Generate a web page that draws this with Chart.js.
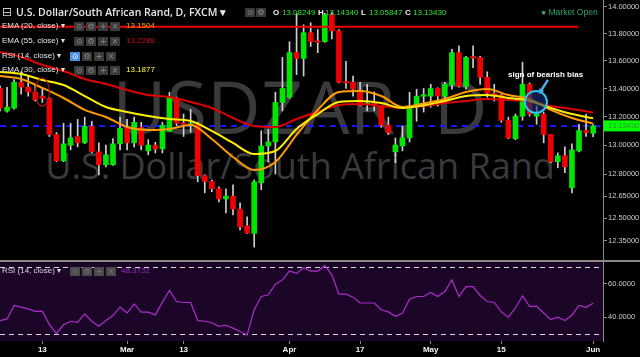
<!DOCTYPE html>
<html>
<head>
<meta charset="utf-8">
<script src="https://cdn.jsdelivr.net/npm/chart.js@4.4.0/dist/chart.umd.min.js"></script>
<style>
  html, body { margin: 0; padding: 0; background: #000; }
  #wrap { position: relative; width: 640px; height: 357px; overflow: hidden; background: #000;
          font-family: "Liberation Sans", Arial, sans-serif; }
  canvas { position: absolute; left: 0; }
  #main { top: 0; z-index: 1; }
  #rsi { top: 262px; z-index: 1; }
  #sep { position: absolute; left: 0; top: 260px; width: 640px; height: 2px; background: #8a8a8a; z-index: 1; }
  .wm { position: absolute; left: 0; width: 600px; text-align: center; color: #3a3a3a;
        font-family: "Open Sans", sans-serif; white-space: nowrap; z-index: 0; }
  .ov { position: absolute; z-index: 2; white-space: nowrap; line-height: 10px; font-size: 8px; color: #e2e2e2; }
  .ib { position: absolute; z-index: 2; width: 10px; height: 9px; background: #3a3a3a; color: #8c8c8c;
        font-size: 8px; line-height: 9px; text-align: center; font-family: "DejaVu Sans", sans-serif; }
  .g { color: #2ee62e; }
  .w { color: #f0f0f0; font-weight: bold; }
</style>
</head>
<body>
<div id="wrap">
  <div class="wm" style="top:69px; font-size:74px; line-height:74px;">USDZAR, D</div>
  <div class="wm" style="top:148px; font-size:36px; line-height:36px;">U.S. Dollar/South African Rand</div>

  <canvas id="main" width="640" height="260"></canvas>
  <div id="sep"></div>
  <canvas id="rsi" width="640" height="95"></canvas>

  <!-- header -->
  <div class="ov" style="left:2px; top:6px; font-size:12px; line-height:12px; font-family:'DejaVu Sans',sans-serif; color:#cfcfcf;">⊟</div>
  <div class="ov" style="left:16px; top:6px; font-size:10.5px; line-height:12px; font-weight:600; font-family:'Open Sans',sans-serif; color:#e8e8e8;">U.S. Dollar/South African Rand, D, FXCM ▾</div>
  <div class="ib" style="left:245px; top:8px;">⊙</div>
  <div class="ib" style="left:256px; top:8px;">⚙</div>
  <div class="ov w" style="left:273px; top:8px;">O</div>
  <div class="ov g" style="left:282px; top:8px;">13.08249</div>
  <div class="ov w" style="left:318px; top:8px;">H</div>
  <div class="ov g" style="left:325px; top:8px;">13.14340</div>
  <div class="ov w" style="left:361px; top:8px;">L</div>
  <div class="ov g" style="left:369px; top:8px;">13.05847</div>
  <div class="ov w" style="left:405px; top:8px;">C</div>
  <div class="ov g" style="left:413px; top:8px;">13.13430</div>
  <div class="ov" style="left:541px; top:7px; font-size:8.5px; color:#2ea36f;">● Market Open</div>

  <!-- indicator legends -->
  <div class="ov" style="left:2px; top:21px;">EMA (20, close) ▾</div>
  <div class="ib" style="left:74px; top:22px;">⊙</div><div class="ib" style="left:86px; top:22px;">⚙</div>
  <div class="ib" style="left:98px; top:22px;">+</div><div class="ib" style="left:110px; top:22px;">×</div>
  <div class="ov" style="left:126px; top:21px; color:#f5a300;">13.1504</div>

  <div class="ov" style="left:2px; top:36px;">EMA (55, close) ▾</div>
  <div class="ib" style="left:74px; top:37px;">⊙</div><div class="ib" style="left:86px; top:37px;">⚙</div>
  <div class="ib" style="left:98px; top:37px;">+</div><div class="ib" style="left:110px; top:37px;">×</div>
  <div class="ov" style="left:126px; top:36px; color:#cc1010;">13.2288</div>

  <div class="ov" style="left:2px; top:51px;">RSI (14, close) ▾</div>
  <div class="ib" style="left:70px; top:52px; background:#4a8fe0; color:#fff;">⊙</div><div class="ib" style="left:82px; top:52px;">⚙</div>
  <div class="ib" style="left:94px; top:52px;">+</div><div class="ib" style="left:106px; top:52px;">×</div>

  <div class="ov" style="left:2px; top:65px;">EMA (30, close) ▾</div>
  <div class="ib" style="left:74px; top:66px;">⊙</div><div class="ib" style="left:86px; top:66px;">⚙</div>
  <div class="ib" style="left:98px; top:66px;">+</div><div class="ib" style="left:110px; top:66px;">×</div>
  <div class="ov" style="left:126px; top:65px; color:#ffff33;">13.1877</div>

  <div class="ov" style="left:508px; top:70px; font-weight:bold; color:#fff;">sign of bearish bias</div>

  <!-- RSI legend -->
  <div class="ov" style="left:2px; top:266px; color:#d8d8d8;">RSI (14, close) ▾</div>
  <div class="ib" style="left:70px; top:267px; background:#4a4a4a; color:#777;">⊙</div><div class="ib" style="left:82px; top:267px; background:#4a4a4a; color:#777;">⚙</div>
  <div class="ib" style="left:94px; top:267px; background:#4a4a4a; color:#777;">+</div><div class="ib" style="left:106px; top:267px; background:#4a4a4a; color:#777;">×</div>
  <div class="ov" style="left:121px; top:266px; color:#9a2cb8;">48.3732</div>
</div>

<script>
// trading days Feb 3 .. Jun 1 (index = trading day number)
const xTickIdx = [6, 18, 26, 41, 51, 61, 71, 84];
const xTickText = ['13', 'Mar', '13', 'Apr', '17', 'May', '15', 'Jun'];

const opens = [13.40,13.239,13.26,13.445,13.41,13.375,13.345,13.33,13.074,12.891,
  13.0,13.06,13.016,13.131,12.953,12.864,12.864,13.009,13.117,13.016,
  13.124,12.96,13.0,12.974,13.095,13.33,13.153,13.14,13.146,12.789,
  12.75,12.70,12.631,12.65,12.563,12.45,12.40,12.74,12.994,13.022,
  13.30,13.338,13.66,13.617,13.806,13.745,13.74,13.94,13.82,13.45,
  13.445,13.375,13.285,13.295,13.275,13.14,12.953,12.994,13.05,13.275,
  13.345,13.345,13.40,13.345,13.425,13.66,13.416,13.625,13.625,13.48,
  13.366,13.352,13.174,13.045,13.203,13.43,13.203,13.218,13.074,12.885,
  12.926,12.706,12.96,13.102,13.08249];
const highs = [13.42,13.409,13.465,13.52,13.49,13.43,13.40,13.335,13.088,13.153,
  13.153,13.18,13.196,13.166,13.016,13.0,13.045,13.196,13.18,13.196,
  13.16,13.038,13.02,13.16,13.373,13.338,13.218,13.25,13.16,12.795,
  12.76,12.713,12.70,12.727,12.604,12.51,12.76,13.10,13.11,13.373,
  13.625,13.74,13.95,13.865,13.88,13.83,13.95,13.96,13.83,13.596,
  13.49,13.445,13.43,13.375,13.28,13.196,13.05,13.131,13.373,13.395,
  13.40,13.43,13.405,13.445,13.683,13.71,13.632,13.71,13.632,13.52,
  13.43,13.36,13.196,13.218,13.59,13.44,13.275,13.232,13.074,12.946,
  12.988,13.009,13.146,13.218,13.1434];
const lows = [13.24,13.232,13.253,13.36,13.345,13.31,13.30,13.06,12.885,12.885,
  12.967,12.988,13.01,12.946,12.795,12.85,12.86,12.967,12.967,12.988,
  12.967,12.933,12.946,12.946,13.095,13.138,13.06,13.09,12.747,12.672,
  12.68,12.61,12.537,12.523,12.423,12.40,12.31,12.693,12.885,12.80,
  13.24,13.33,13.50,13.49,13.705,13.66,13.735,13.76,13.44,13.40,
  13.345,13.275,13.24,13.24,13.125,13.074,12.878,12.96,13.022,13.167,
  13.232,13.267,13.275,13.325,13.395,13.41,13.395,13.55,13.43,13.338,
  13.31,13.16,13.045,13.038,13.174,13.203,13.146,13.016,12.878,12.843,
  12.809,12.672,12.953,13.06,13.05847];
const closes = [13.26,13.267,13.445,13.41,13.375,13.32,13.33,13.074,12.891,13.009,
  13.05,13.016,13.131,12.953,12.864,12.933,13.009,13.117,13.016,13.16,
  13.0,13.0,12.974,13.138,13.338,13.153,13.145,13.15,12.789,12.75,
  12.70,12.631,12.65,12.563,12.443,12.403,12.747,12.994,13.022,13.30,
  13.40,13.66,13.617,13.806,13.74,13.735,13.94,13.82,13.445,13.44,
  13.395,13.28,13.29,13.275,13.14,13.088,13.0,13.05,13.275,13.345,
  13.352,13.40,13.345,13.43,13.66,13.416,13.625,13.62,13.48,13.366,
  13.345,13.174,13.05,13.203,13.43,13.218,13.218,13.074,12.885,12.926,
  12.85,12.967,13.102,13.088,13.1343];

// moving averages, read every third day
const emaIdx = [0,3,6,9,12,15,18,21,24,27,30,33,36,39,42,45,48,51,54,57,60,63,66,69,72,75,78,81,84];
const ema20 = [13.490,13.468,13.404,13.332,13.247,13.197,13.127,13.106,13.113,13.141,13.043,12.918,12.828,12.883,
  13.071,13.247,13.375,13.382,13.346,13.268,13.293,13.325,13.375,13.396,13.353,13.325,13.247,13.190,13.1504];
const ema30 = [13.519,13.504,13.461,13.425,13.346,13.268,13.233,13.204,13.183,13.169,13.099,13.015,12.938,12.959,
  13.113,13.218,13.304,13.311,13.296,13.261,13.279,13.311,13.346,13.353,13.332,13.311,13.261,13.218,13.1877];
const ema55 = [13.664,13.628,13.570,13.526,13.468,13.432,13.389,13.353,13.339,13.304,13.261,13.190,13.134,13.127,
  13.183,13.233,13.282,13.289,13.275,13.261,13.275,13.296,13.311,13.325,13.318,13.311,13.275,13.254,13.2288];

const rsi = [38,39,47,46,45,43.5,43.5,35.6,30.3,35.5,
  37.6,37,42,37.6,34.6,38,41,46,42.6,48,
  43,43,41.4,49,56,49.4,48.8,48.8,38,37.6,
  36.7,34.6,35.2,33.5,31.5,29.4,44.5,52.4,53.4,59.7,
  62.3,67.6,66.2,69.6,67.6,67.6,70.8,65.3,53.8,53.8,
  52,48.5,48.5,48.5,44.5,43.2,40.6,42.3,50.8,52.4,
  52.4,54.8,52.4,55.4,62.3,52.4,58.3,58.3,53,49.4,
  48.8,43.2,40,45.5,52.8,46.5,46.5,42.5,38.6,40,
  38,41.2,47,45.9,48.37];

const priceTicks = [14.0, 13.8, 13.6, 13.4, 13.2, 13.0, 12.8, 12.65, 12.5, 12.35];
const rsiTicks = [40, 60];
const rsiBands = [70, 30];

// horizontal resistance drawn on the chart
const resistance = 13.85;
const resistanceFrom = -1, resistanceTo = 81.9;

// markups
const bearishMark = { idx: 75.9, price: 13.304 };
const earlyMark = { idx: 6, price: 13.375 };

const lastClose = closes[closes.length - 1];
const axisFont = { family: "'Liberation Sans', Arial, sans-serif", size: 7.5 };

const days = opens.map((v, i) => i);
const bodyColors = days.map(i => closes[i] >= opens[i] ? '#00e600' : '#f00000');

const mainDecor = {
  id: 'mainDecor',
  beforeDatasetsDraw(chart) {
    const { ctx, chartArea: a, scales: { y } } = chart;
    const py = y.getPixelForValue(lastClose);
    ctx.save();
    ctx.strokeStyle = '#1717ff';
    ctx.lineWidth = 2;
    ctx.setLineDash([6, 5]);
    ctx.beginPath();
    ctx.moveTo(a.left, py);
    ctx.lineTo(a.right, py);
    ctx.stroke();
    ctx.restore();
  },
  afterDatasetsDraw(chart) {
    const { ctx, scales: { x, y } } = chart;
    ctx.save();
    // small ellipse on the left
    ctx.strokeStyle = '#b01515';
    ctx.lineWidth = 1.2;
    ctx.beginPath();
    ctx.ellipse(x.getPixelForValue(earlyMark.idx), y.getPixelForValue(earlyMark.price), 7, 14, 0, 0, Math.PI * 2);
    ctx.stroke();
    // bearish circle
    const cx = x.getPixelForValue(bearishMark.idx), cy = y.getPixelForValue(bearishMark.price);
    ctx.fillStyle = 'rgba(20, 45, 120, 0.6)';
    ctx.strokeStyle = '#2cc8f0';
    ctx.lineWidth = 2;
    ctx.beginPath();
    ctx.arc(cx, cy, 11, 0, Math.PI * 2);
    ctx.fill();
    ctx.stroke();
    // arrow
    const x0 = cx + 12, y0 = cy - 22, x1 = cx + 3, y1 = cy - 8;
    ctx.strokeStyle = '#52aee8';
    ctx.fillStyle = '#52aee8';
    ctx.lineWidth = 2.5;
    ctx.beginPath();
    ctx.moveTo(x0, y0);
    ctx.lineTo(x1 + 2, y1 - 3);
    ctx.stroke();
    const ang = Math.atan2(y1 - y0, x1 - x0);
    ctx.beginPath();
    ctx.moveTo(x1, y1);
    ctx.lineTo(x1 - 6 * Math.cos(ang - 0.5), y1 - 6 * Math.sin(ang - 0.5));
    ctx.lineTo(x1 - 6 * Math.cos(ang + 0.5), y1 - 6 * Math.sin(ang + 0.5));
    ctx.closePath();
    ctx.fill();
    ctx.restore();
  },
  afterDraw(chart) {
    const { ctx, chartArea: a, scales: { y } } = chart;
    const py = y.getPixelForValue(lastClose);
    ctx.save();
    ctx.fillStyle = '#00ff00';
    ctx.fillRect(a.right + 1, py - 5.5, 40, 11);
    ctx.fillStyle = '#3c8c3c';
    ctx.font = "7.5px 'Liberation Sans', Arial, sans-serif";
    ctx.textBaseline = 'middle';
    ctx.fillText(lastClose.toFixed(5), a.right + 5, py + 0.5);
    ctx.restore();
  }
};

new Chart(document.getElementById('main'), {
  type: 'bar',
  data: {
    datasets: [
      {
        label: 'Wicks',
        data: days.map(i => ({ x: i, y: [lows[i], highs[i]] })),
        backgroundColor: '#cfcfcf',
        barThickness: 1,
        grouped: false,
        order: 4
      },
      {
        label: 'Bodies',
        data: days.map(i => ({ x: i, y: [opens[i], closes[i]] })),
        backgroundColor: bodyColors,
        barThickness: 5,
        minBarLength: 1.5,
        grouped: false,
        order: 3
      },
      {
        type: 'line', label: 'EMA 55',
        data: emaIdx.map((d, k) => ({ x: d, y: ema55[k] })),
        borderColor: '#e00000', borderWidth: 2, pointRadius: 0, cubicInterpolationMode: 'monotone', order: 2
      },
      {
        type: 'line', label: 'EMA 30',
        data: emaIdx.map((d, k) => ({ x: d, y: ema30[k] })),
        borderColor: '#ffee00', borderWidth: 2, pointRadius: 0, cubicInterpolationMode: 'monotone', order: 1
      },
      {
        type: 'line', label: 'EMA 20',
        data: emaIdx.map((d, k) => ({ x: d, y: ema20[k] })),
        borderColor: '#ff9a00', borderWidth: 2, pointRadius: 0, cubicInterpolationMode: 'monotone', order: 1
      },
      {
        type: 'line', label: 'Resistance',
        data: [{ x: resistanceFrom, y: resistance }, { x: resistanceTo, y: resistance }],
        borderColor: '#ee0000', borderWidth: 2, pointRadius: 0, order: 0
      }
    ]
  },
  options: {
    responsive: false,
    animation: false,
    events: [],
    layout: { padding: 0 },
    plugins: { legend: { display: false }, tooltip: { enabled: false } },
    scales: {
      x: { type: 'linear', min: 0, max: 85.4, offset: false, display: false },
      y: {
        type: 'logarithmic',
        position: 'right',
        min: 12.2247,
        max: 14.05,
        afterBuildTicks: s => { s.ticks = priceTicks.map(v => ({ value: v })); },
        afterFit: s => { s.width = 37; s.paddingTop = 0; s.paddingBottom = 0; },
        grid: { drawOnChartArea: false, drawTicks: true, tickLength: 4, color: '#8a8a8a' },
        border: { display: true, color: '#8a8a8a' },
        ticks: { color: '#cccccc', font: axisFont, padding: 1, callback: v => Number(v).toFixed(5) }
      }
    }
  },
  plugins: [mainDecor]
});

const rsiDecor = {
  id: 'rsiDecor',
  beforeDatasetsDraw(chart) {
    const { ctx, chartArea: a, scales: { y } } = chart;
    ctx.save();
    ctx.fillStyle = '#1b0628';
    ctx.fillRect(a.left, a.top, a.right - a.left, a.bottom - a.top);
    ctx.strokeStyle = '#d8d8d8';
    ctx.lineWidth = 1;
    ctx.setLineDash([5, 4]);
    rsiBands.forEach(b => {
      const py = Math.round(y.getPixelForValue(b)) + 0.5;
      ctx.beginPath();
      ctx.moveTo(a.left, py);
      ctx.lineTo(a.right, py);
      ctx.stroke();
    });
    ctx.restore();
  }
};

new Chart(document.getElementById('rsi'), {
  type: 'line',
  data: {
    datasets: [{
      label: 'RSI',
      data: days.map(i => ({ x: i, y: rsi[i] })),
      borderColor: '#ad2ccc',
      borderWidth: 1.2,
      pointRadius: 0,
      tension: 0
    }]
  },
  options: {
    responsive: false,
    animation: false,
    events: [],
    layout: { padding: 0 },
    plugins: { legend: { display: false }, tooltip: { enabled: false } },
    scales: {
      x: {
        type: 'linear', min: 0, max: 85.4, offset: false,
        afterBuildTicks: s => { s.ticks = xTickIdx.map(v => ({ value: v })); },
        afterFit: s => { s.height = 16; s.paddingLeft = 0; s.paddingRight = 0; },
        grid: { drawOnChartArea: false, drawTicks: true, tickLength: 3, color: '#8a8a8a' },
        border: { display: false },
        ticks: {
          autoSkip: false, maxRotation: 0, padding: 1, color: '#f2f2f2',
          font: { family: "'Liberation Sans', Arial, sans-serif", size: 8, weight: 'bold' },
          callback: (v, i) => xTickText[i]
        }
      },
      y: {
        position: 'right', min: 25.8, max: 73,
        afterBuildTicks: s => { s.ticks = rsiTicks.map(v => ({ value: v })); },
        afterFit: s => { s.width = 37; s.paddingTop = 0; s.paddingBottom = 0; },
        grid: { drawOnChartArea: false, drawTicks: true, tickLength: 4, color: '#8a8a8a' },
        border: { display: true, color: '#8a8a8a' },
        ticks: { color: '#cccccc', font: axisFont, padding: 1, callback: v => Number(v).toFixed(4) }
      }
    }
  },
  plugins: [rsiDecor]
});
</script>
</body>
</html>
